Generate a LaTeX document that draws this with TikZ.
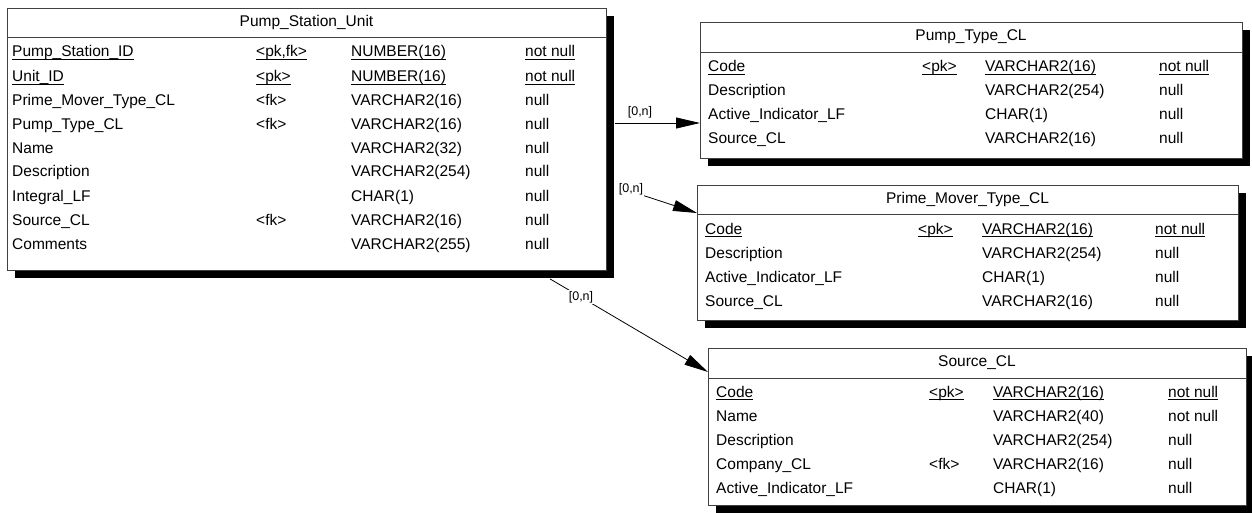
\documentclass[tikz,border=0pt]{standalone}
\usepackage{fontspec}
\setmainfont{Liberation Sans}
\usetikzlibrary{arrows.meta}
\newcommand{\ulx}[1]{\setbox0\hbox{#1}\rlap{\rule[-2.8pt]{\wd0}{1.2pt}}\box0}
\tikzset{
  tbox/.style={draw=black!75, line width=0.9pt, fill=white, inner sep=0pt, anchor=north west},
  tshadow/.style={fill=black, draw=none},
  cell/.style={anchor=base west, inner sep=0pt, font=\fontsize{15.5}{18}\selectfont},
  ttitle/.style={anchor=center, inner sep=0pt, font=\fontsize{15.5}{18}\selectfont},
  card/.style={inner sep=1pt, fill=white, font=\fontsize{12.5}{15}\selectfont},
  rel/.style={draw=black, line width=0.8pt, -{Triangle[length=24pt,width=11pt]}}
}
% #1 name, #2 x1, #3 y1, #4 x2, #5 y2, #6 header line y, #7 title
\newcommand{\etable}[7]{%
  \fill[tshadow] (#2+8,#3+8) rectangle (#4+8,#5+8);
  \node[tbox, minimum width=#4-#2, minimum height=#5-#3] (#1) at (#2,#3) {};
  \draw[draw=black!75, line width=0.9pt] (#2,#6) -- (#4,#6);
  \node[ttitle] (#1-title) at ({(#2+#4)/2},{(#3+#6)/2}) {#7};
}
% #1 node name, #2 baseline y, #3..#6 texts
\newcommand{\erow}[6]{%
  \node[cell] (#1-a) at (\cxa,#2) {#3};
  \node[cell] (#1-b) at (\cxb,#2) {#4};
  \node[cell] (#1-c) at (\cxc,#2) {#5};
  \node[cell] (#1-d) at (\cxd,#2) {#6};
}
\begin{document}
\begin{tikzpicture}[x=1pt,y=-1pt]
\useasboundingbox (0,0) rectangle (1252,513);
% Pump_Station_Unit
\etable{psu}{7}{8}{606}{270}{37}{Pump\_Station\_Unit}
\def\cxa{12}\def\cxb{256}\def\cxc{351}\def\cxd{525}
\erow{psu1}{57}{\ulx{Pump\_Station\_ID}}{\ulx{<pk,fk>}}{\ulx{NUMBER(16)}}{\ulx{not null}}
\erow{psu2}{82}{\ulx{Unit\_ID}}{\ulx{<pk>}}{\ulx{NUMBER(16)}}{\ulx{not null}}
\erow{psu3}{106}{Prime\_Mover\_Type\_CL}{<fk>}{VARCHAR2(16)}{null}
\erow{psu4}{130}{Pump\_Type\_CL}{<fk>}{VARCHAR2(16)}{null}
\erow{psu5}{154}{Name}{}{VARCHAR2(32)}{null}
\erow{psu6}{177}{Description}{}{VARCHAR2(254)}{null}
\erow{psu7}{201}{Integral\_LF}{}{CHAR(1)}{null}
\erow{psu8}{225}{Source\_CL}{<fk>}{VARCHAR2(16)}{null}
\erow{psu9}{249}{Comments}{}{VARCHAR2(255)}{null}
% Pump_Type_CL
\etable{ptc}{700}{22}{1242}{158}{52}{Pump\_Type\_CL}
\def\cxa{708}\def\cxb{922}\def\cxc{985}\def\cxd{1159}
\erow{ptc1}{72}{\ulx{Code}}{\ulx{<pk>}}{\ulx{VARCHAR2(16)}}{\ulx{not null}}
\erow{ptc2}{96}{Description}{}{VARCHAR2(254)}{null}
\erow{ptc3}{120}{Active\_Indicator\_LF}{}{CHAR(1)}{null}
\erow{ptc4}{144}{Source\_CL}{}{VARCHAR2(16)}{null}
% Prime_Mover_Type_CL
\etable{pmt}{697}{185}{1238}{320}{214}{Prime\_Mover\_Type\_CL}
\def\cxa{705}\def\cxb{918}\def\cxc{982}\def\cxd{1155}
\erow{pmt1}{234}{\ulx{Code}}{\ulx{<pk>}}{\ulx{VARCHAR2(16)}}{\ulx{not null}}
\erow{pmt2}{258}{Description}{}{VARCHAR2(254)}{null}
\erow{pmt3}{282}{Active\_Indicator\_LF}{}{CHAR(1)}{null}
\erow{pmt4}{306}{Source\_CL}{}{VARCHAR2(16)}{null}
% Source_CL
\etable{scl}{708}{348}{1246}{505}{378}{Source\_CL}
\def\cxa{716}\def\cxb{929}\def\cxc{993}\def\cxd{1168}
\erow{scl1}{397}{\ulx{Code}}{\ulx{<pk>}}{\ulx{VARCHAR2(16)}}{\ulx{not null}}
\erow{scl2}{421}{Name}{}{VARCHAR2(40)}{not null}
\erow{scl3}{445}{Description}{}{VARCHAR2(254)}{null}
\erow{scl4}{469}{Company\_CL}{<fk>}{VARCHAR2(16)}{null}
\erow{scl5}{493}{Active\_Indicator\_LF}{}{CHAR(1)}{null}
% connectors (start at the shadow edge of Pump_Station_Unit)
\coordinate (r1s) at ([xshift=8pt]psu.east |- 0,123);
\coordinate (r1e) at (ptc.west |- 0,123);
\coordinate (r2s) at ([xshift=12pt]psu.east |- 0,187.5);
\coordinate (r2e) at (pmt.west |- 0,213);
\coordinate (r3s) at ([yshift=-8pt]psu.south -| 550,0);
\coordinate (r3e) at (scl.west |- 0,372);
\draw[rel] (r1s) -- (r1e);
\draw[rel] (r2s) -- (r2e);
\draw[rel] (r3s) -- (r3e);
\node[card] (c1) at (640,112) {[0,n]};
\node[card] (c2) at (631,189) {[0,n]};
\node[card] (c3) at (581,297) {[0,n]};
\end{tikzpicture}
\end{document}
